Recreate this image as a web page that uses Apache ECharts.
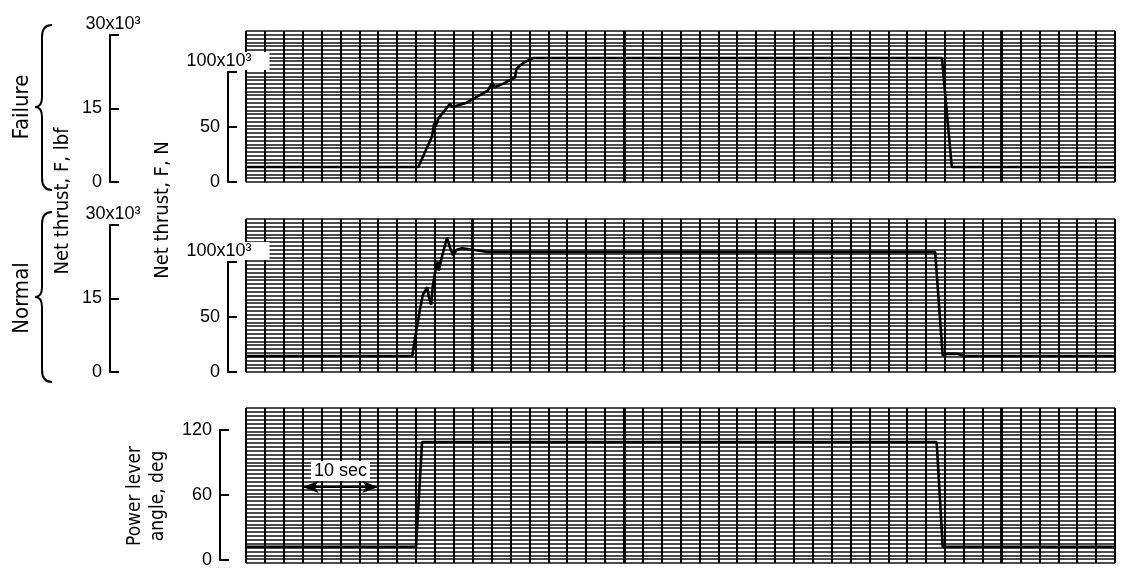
<!DOCTYPE html>
<html><head><meta charset="utf-8">
<script src="https://cdn.jsdelivr.net/npm/echarts@6/dist/echarts.min.js"></script>
<style>html,body{margin:0;padding:0;background:#fff}#c{width:1129px;height:569px}</style>
</head><body><div id="c"></div><script>
// ---- data (time in seconds) ----
const failureT  = [0, 22.8, 24.6, 24.9, 25.1, 25.5, 27.0, 27.3, 29.2, 31.0, 32.0, 32.6, 32.9, 34.0, 35.6, 35.8, 36.7, 38.0, 92.1, 93.4, 115];
const failureKN = [13.6, 13.6, 41, 53, 51, 58, 71, 68, 72, 79, 83, 90, 86, 89, 95, 103, 108, 112.5, 112.5, 13.6, 13.6];
const normalT   = [0, 22.0, 22.4, 23.0, 23.4, 24.0, 24.2, 24.5, 24.7, 25.1, 25.4, 25.5, 25.9, 26.6, 27.0, 27.4, 27.9, 28.6, 30.0, 32.0, 91.2, 92.2, 92.8, 94.1, 95.1, 115];
const normalKN  = [14.5, 14.5, 32, 56, 70, 77, 68, 61, 77, 94, 100, 92, 104, 122, 113, 106, 111, 112.5, 111, 109, 109, 15, 16.5, 16.5, 14.5, 14.5];
const plaT      = [0, 22.5, 23.3, 91.4, 92.2, 115];
const plaDeg    = [14.7, 14.7, 109.3, 109.3, 14.7, 14.7];
const eventTop = [50, 100];
const eventMid = [30];
const eventBot = [50, 100];
const tenSec = [7.5, 17.5];      // 10-second scale bar (s)
const tenSecLevel = 68.7;        // deg
const nTicks = [0, 50, 100];     // N x10^3
const lbfTicks = [0, 15, 30];    // lbf x10^3
const plaTicks = [0, 60, 120];   // deg

const zip = (a, b) => a.map((t, i) => [t, b[i]]);
const NUM = "'Liberation Sans', Arimo, Arial, sans-serif";
const TTL = "'DejaVu Sans Condensed', 'Liberation Sans Narrow', sans-serif";

const papers = [
  {top: 31, height: 151, max: 137},
  {top: 219, height: 153, max: 139},
  {top: 408, height: 155, max: 140}
];
const grids = papers.map(p => ({left: 246, width: 869, top: p.top, height: p.height}));
grids.push({left: 228, width: 1, top: 72, height: 110});   // 3 N top
grids.push({left: 110, width: 1, top: 35, height: 147});   // 4 lbf top
grids.push({left: 228, width: 1, top: 262, height: 110});  // 5 N mid
grids.push({left: 110, width: 1, top: 225, height: 147});  // 6 lbf mid
grids.push({left: 220, width: 1, top: 430, height: 133});  // 7 PLA

const xAxes = [];
const yAxes = [];
papers.forEach((p, i) => {
  xAxes.push({gridIndex: i, type: 'value', min: 0, max: 115, interval: 2.5,
    axisLine: {show: false}, axisTick: {show: false}, axisLabel: {show: false},
    splitLine: {show: true, lineStyle: {color: '#000', width: 2}}});
  yAxes.push({gridIndex: i, type: 'value', min: 0, max: p.max, interval: p.max / 40,
    axisLine: {show: false}, axisTick: {show: false}, axisLabel: {show: false},
    splitLine: {show: true, lineStyle: {color: '#111', width: 1.7}}});
});
function labelAxis(gi, ticks, name, nameShift) {
  xAxes.push({gridIndex: gi, type: 'value', show: false, min: 0, max: 1});
  const top = ticks[ticks.length - 1];
  yAxes.push({gridIndex: gi, type: 'value', min: ticks[0], max: top, interval: ticks[1] - ticks[0], z: 10,
    splitLine: {show: false},
    axisLine: {show: true, lineStyle: {color: '#000', width: 2}},
    axisTick: {show: true, inside: true, length: 9, lineStyle: {color: '#000', width: 2}},
    axisLabel: {color: '#000', fontFamily: NUM, fontSize: 18, margin: 8,
      formatter: v => (name && v === top) ? '' : String(v)},
    name: name || '', nameLocation: 'end', nameGap: 2,
    nameTextStyle: {color: '#000', fontFamily: NUM, fontSize: 18, align: 'center',
      verticalAlign: 'bottom', backgroundColor: '#fff', padding: nameShift}
  });
}
labelAxis(3, nTicks, '100x10³', [0, 18, 0, 0]);
labelAxis(4, lbfTicks, '30x10³', [0, 0, 0, 6]);
labelAxis(5, nTicks, '100x10³', [0, 18, 0, 0]);
labelAxis(6, lbfTicks, '30x10³', [0, 0, 0, 6]);
labelAxis(7, plaTicks, null, 0);

const trace = (gi, data) => ({type: 'line', xAxisIndex: gi, yAxisIndex: gi, data, showSymbol: false,
  symbol: 'none', lineStyle: {color: '#000', width: 2.6}, z: 5});
const eventLines = (gi, list, hi) => ({type: 'line', xAxisIndex: gi, yAxisIndex: gi, data: [], z: 4,
  markLine: {silent: true, symbol: 'none', label: {show: false}, animation: false,
    lineStyle: {color: '#000', width: 2.8, type: 'solid'},
    data: list.map(t => [{coord: [t, 0]}, {coord: [t, hi]}])}});

const series = [
  trace(0, zip(failureT, failureKN)),
  trace(1, zip(normalT, normalKN)),
  trace(2, zip(plaT, plaDeg)),
  eventLines(0, eventTop, 137),
  eventLines(1, eventMid, 139),
  eventLines(2, eventBot, 140),
  {type: 'line', xAxisIndex: 2, yAxisIndex: 2, data: [], z: 6,
    markLine: {silent: true, symbol: ['arrow', 'arrow'], symbolSize: [9, 16], animation: false,
      lineStyle: {color: '#000', width: 2, type: 'solid'},
      label: {show: true, position: 'insideMiddleTop', distance: 6, formatter: '10 sec',
        color: '#000', fontFamily: NUM, fontSize: 18, backgroundColor: '#fff', padding: [1, 3]},
      data: [[{coord: [tenSec[0], tenSecLevel]}, {coord: [tenSec[1], tenSecLevel]}]]}}
];

const txt = (x, y, text, size) => ({type: 'text', x, y, rotation: Math.PI / 2, z: 20,
  style: {text, fontFamily: TTL, fontSize: size, fill: '#000', align: 'center', verticalAlign: 'middle', lineHeight: 23}});
const ST = {fill: null, stroke: '#000', lineWidth: 2};
const bz = (x1, y1, cx, cy, x2, y2) => ({type: 'bezierCurve', z: 20, shape: {x1, y1, cpx1: cx, cpy1: cy, x2, y2}, style: ST});
const ln = (x1, y1, x2, y2) => ({type: 'line', z: 20, shape: {x1, y1, x2, y2}, style: ST});
const brace = (t, m, b) => [
  bz(52, t, 42, t, 42, t + 12), ln(42, t + 12, 42, m - 10),
  bz(42, m - 10, 42, m, 35, m), bz(35, m, 42, m, 42, m + 10),
  ln(42, m + 10, 42, b - 12), bz(42, b - 12, 42, b, 52, b)
];

const chart = echarts.init(document.getElementById('c'), null, {renderer: 'canvas'});
chart.setOption({
  animation: false,
  backgroundColor: '#fff',
  grid: grids, xAxis: xAxes, yAxis: yAxes, series,
  graphic: [
    txt(22, 107, 'Failure', 22),
    txt(22, 298, 'Normal', 22),
    txt(63, 201, 'Net thrust, F, lbf', 20),
    txt(163, 210, 'Net thrust, F, N', 20),
    txt(147, 496, 'Power lever\nangle, deg', 19),
    ...brace(25, 107, 190),
    ...brace(212, 297, 382)
  ]
});
</script></body></html>
